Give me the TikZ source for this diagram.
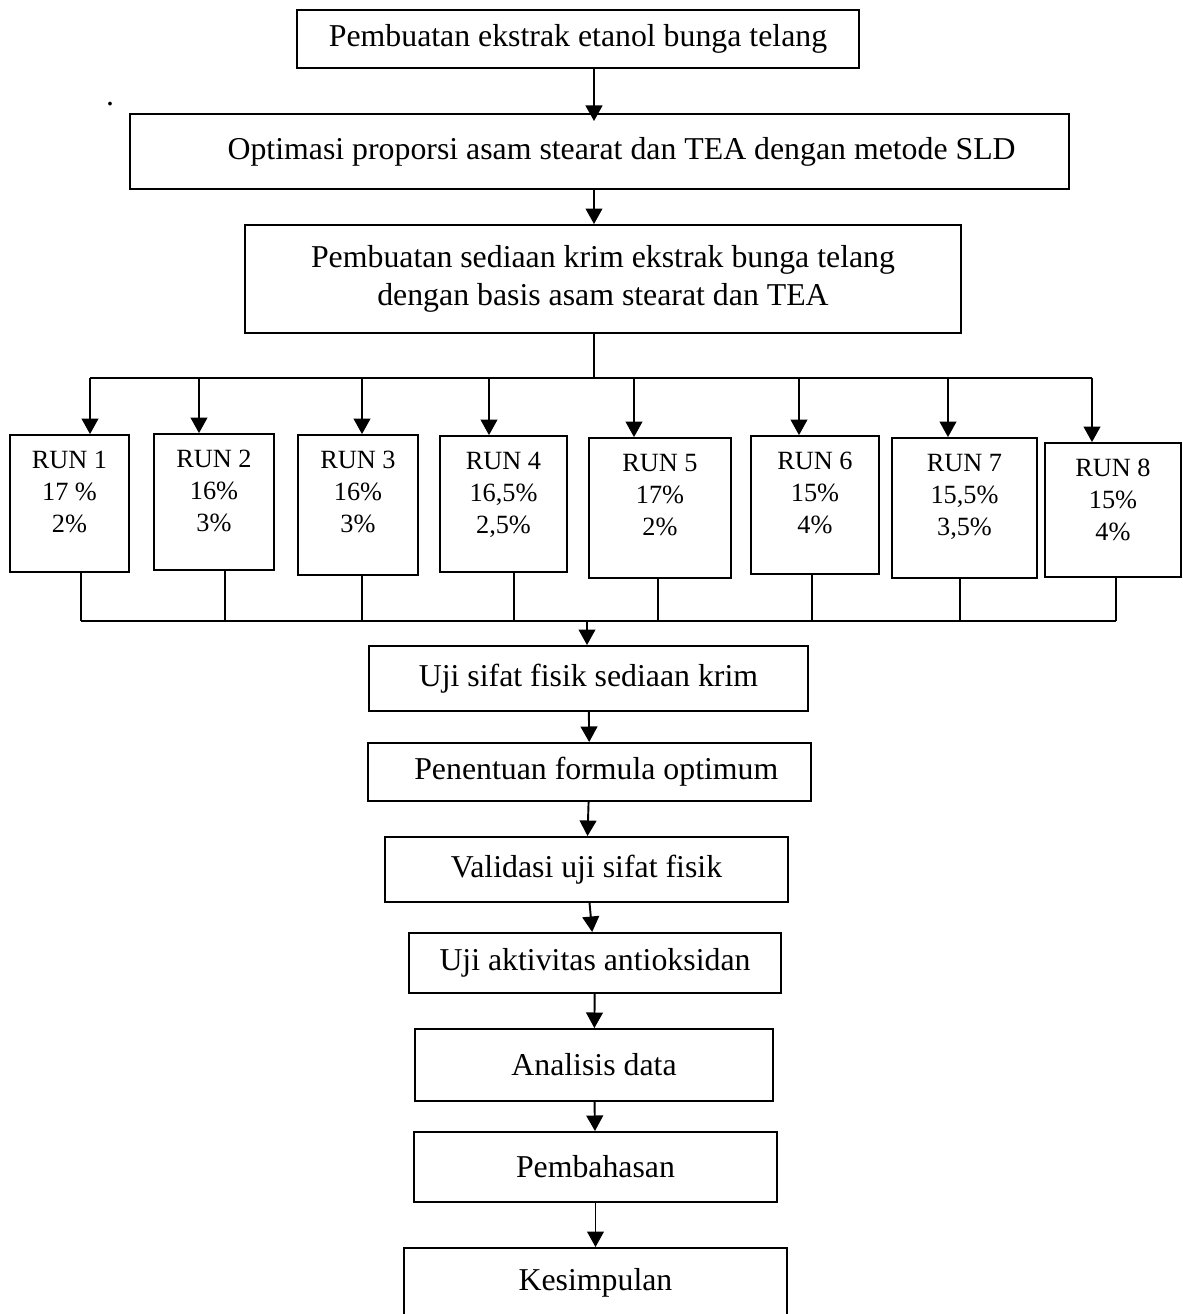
\documentclass[tikz,border=0pt]{standalone}
\usepackage{fontspec}
\setmainfont{Liberation Serif}
\usetikzlibrary{arrows.meta}
\newcommand{\pxu}{0.0147cm}
\tikzset{
  box/.style={draw, line width=0.8pt, align=center, inner sep=0pt},
  runbox/.style={draw, line width=0.75pt, inner sep=0pt},
  runtxt/.style={anchor=north, align=center, yshift=-3.5pt, font=\fontsize{11}{13.4}\selectfont},
  arr/.style={-{Triangle[length=6.5pt,width=7pt]}, line width=0.8pt},
  bus/.style={line width=0.45pt},
}
\begin{document}
\begin{tikzpicture}[x=\pxu, y=-\pxu, font=\fontsize{13.3}{13.6}\selectfont]
    \useasboundingbox (0,0) rectangle (1182,1314);
    \coordinate (spine) at (594,378);
    \coordinate (join) at (587,621);
    % upper column
    \node[box, minimum width=562*\pxu, minimum height=58*\pxu] (ekstrak) at (578,39) {Pembuatan ekstrak etanol bunga telang};
    \node (titik) at (110,104) {.};
    \node[box, minimum width=939*\pxu, minimum height=75*\pxu] (optimasi) at (599.5,151.5) {\hspace*{0.65cm}Optimasi proporsi asam stearat dan TEA dengan metode SLD};
    \node[box, minimum width=716*\pxu, minimum height=108*\pxu, font=\fontsize{13.3}{15.9}\selectfont] (krim) at (603,279) {Pembuatan sediaan krim ekstrak bunga telang\\dengan basis asam stearat dan TEA};
    \draw[arr] (ekstrak.south -| spine) -- ([yshift=-8*\pxu]optimasi.north -| spine);
    \draw[arr] (optimasi.south -| spine) -- (krim.north -| spine);
    % runs
    \foreach \i/\cx/\cy/\w/\h/\ax/\bx/\ta/\tb in {
      1/69.5/503.5/119/137/90/81/{17 \%}/{2\%},
      2/214/502/120/136/199/225/{16\%}/{3\%},
      3/358/505/120/140/362/362/{16\%}/{3\%},
      4/503.5/504/127/136/489/514/{16,5\%}/{2,5\%},
      5/660/508/142/140/634/658/{17\%}/{2\%},
      6/815/505/128/138/799/812/{15\%}/{4\%},
      7/964.5/508/145/140/948/960/{15,5\%}/{3,5\%},
      8/1113/510/136/134/1092/1116/{15\%}/{4\%}}
    {
      \node[runbox, minimum width=\w*\pxu, minimum height=\h*\pxu, label={[runtxt]north:{RUN \i\\\ta\\\tb}}] (r\i) at (\cx,\cy) {};
      \coordinate (ta\i) at (\ax,378);
      \coordinate (bb\i) at (\bx,621);
      \draw[arr] (ta\i) -- (ta\i |- r\i.north);
      \draw[bus] (r\i.south -| bb\i) -- (bb\i);
    }
    \draw[bus] (krim.south -| spine) -- (spine);
    \draw[bus] (ta1) -- (ta8);
    \draw[bus] (bb1) -- (bb8);
    % lower column
    \node[box, minimum width=439*\pxu, minimum height=65*\pxu] (uji) at (588.5,678.5) {Uji sifat fisik sediaan krim};
    \node[box, minimum width=443*\pxu, minimum height=58*\pxu] (optimum) at (589.5,772) {\hspace*{0.2cm}Penentuan formula optimum};
    \node[box, minimum width=403*\pxu, minimum height=65*\pxu] (validasi) at (586.5,869.5) {Validasi uji sifat fisik};
    \node[box, minimum width=372*\pxu, minimum height=60*\pxu] (aktivitas) at (595,963) {Uji aktivitas antioksidan};
    \node[box, minimum width=358*\pxu, minimum height=72*\pxu] (analisis) at (594,1065) {Analisis data};
    \node[box, minimum width=363*\pxu, minimum height=70*\pxu] (bahas) at (595.5,1167) {Pembahasan};
    \node[box, minimum width=383*\pxu, minimum height=70*\pxu] (simpul) at (595.5,1283) {Kesimpulan};
    \draw[arr] (join) -- (join |- uji.north);
    \draw[arr] (uji) -- (optimum);
    \draw[arr] (optimum) -- (validasi);
    \draw[arr] (validasi) -- (aktivitas);
    \draw[arr] (aktivitas) -- (analisis);
    \draw[arr] (analisis) -- (bahas);
    \draw[arr] (bahas) -- (simpul);
  \end{tikzpicture}
\end{document}
